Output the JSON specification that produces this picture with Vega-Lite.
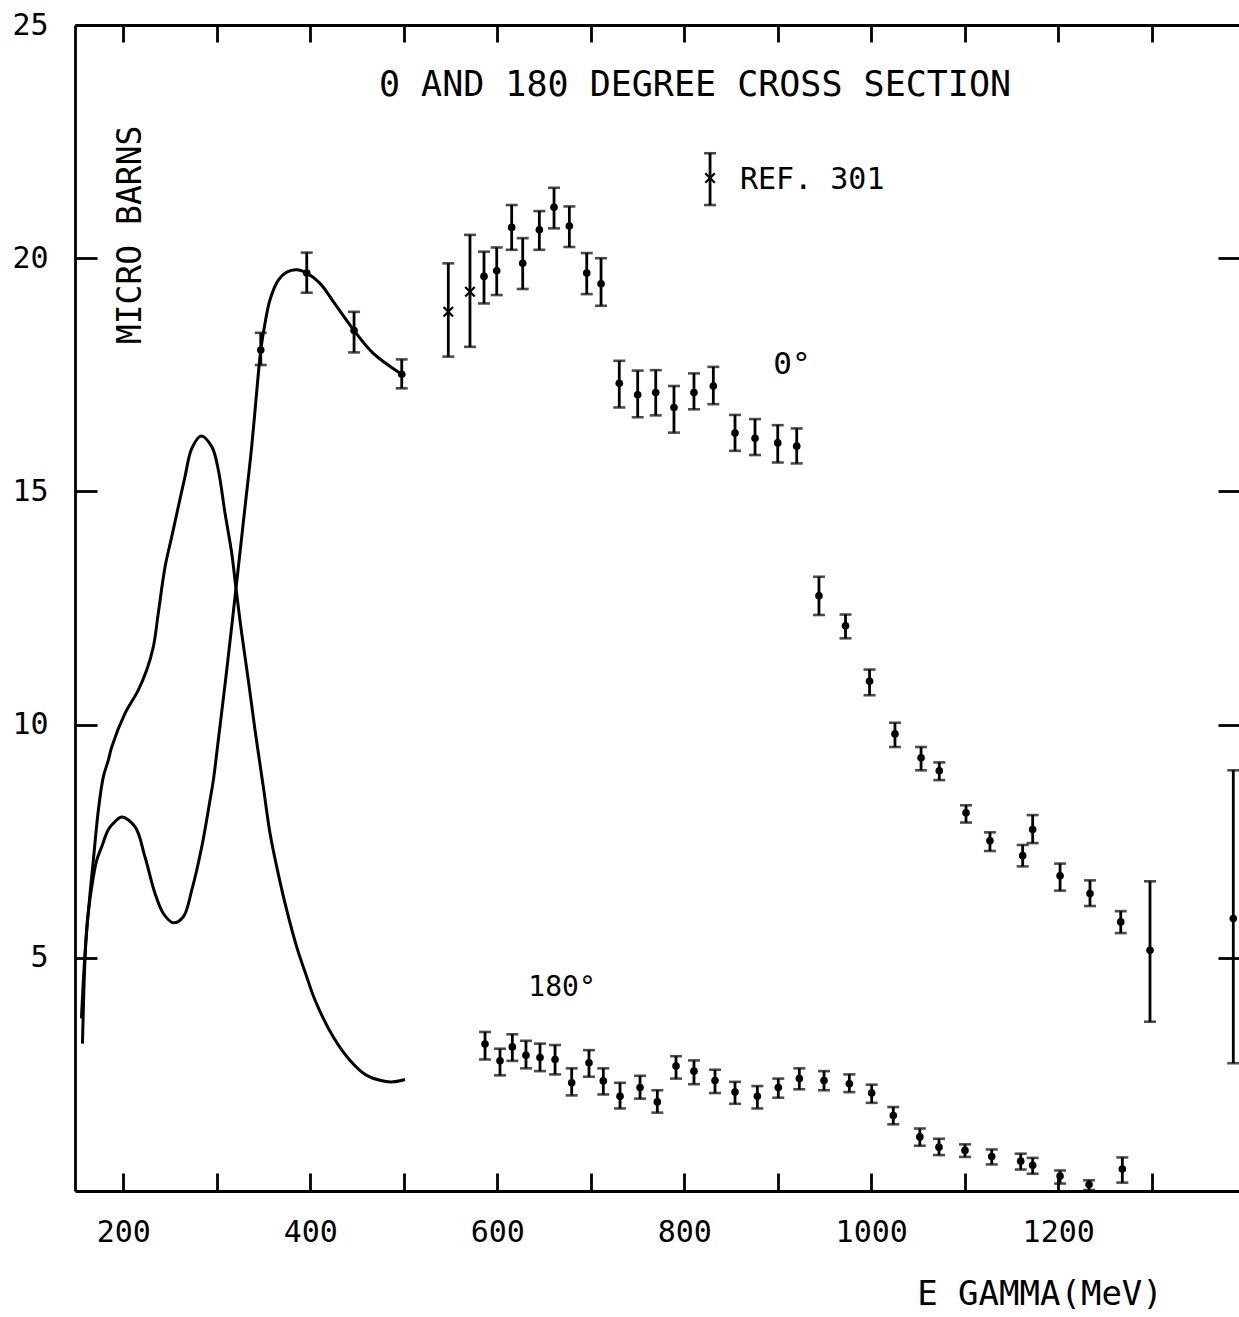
{
  "$schema": "https://vega.github.io/schema/vega-lite/v6.json",
  "width": 1164,
  "height": 1166,
  "autosize": {"type": "none"},
  "padding": {"left": 75, "top": 25, "right": 0, "bottom": 126},
  "background": "white",
  "config": {
    "view": {"stroke": null},
    "font": "DejaVu Sans Mono",
    "axis": {
      "domainColor": "black", "domainWidth": 2.8, "tickColor": "black", "tickWidth": 2.8,
      "labelColor": "black", "labelFont": "DejaVu Sans Mono", "grid": false,
      "labelOverlap": false, "labelFlush": false, "labelBound": false
    }
  },
  "datasets": {
    "curves": [
      {"curve": "180", "e": 155.2, "v": 3.7}, {"curve": "180", "e": 159.0, "v": 5.09}, {"curve": "180", "e": 164.4, "v": 6.38},
      {"curve": "180", "e": 167.9, "v": 7.09}, {"curve": "180", "e": 173.3, "v": 8.17}, {"curve": "180", "e": 178.6, "v": 8.88},
      {"curve": "180", "e": 184.0, "v": 9.24}, {"curve": "180", "e": 187.6, "v": 9.52}, {"curve": "180", "e": 201.8, "v": 10.24},
      {"curve": "180", "e": 216.0, "v": 10.74}, {"curve": "180", "e": 225.0, "v": 11.17}, {"curve": "180", "e": 232.1, "v": 11.67},
      {"curve": "180", "e": 237.4, "v": 12.39}, {"curve": "180", "e": 244.6, "v": 13.38}, {"curve": "180", "e": 251.8, "v": 14.03},
      {"curve": "180", "e": 258.8, "v": 14.67}, {"curve": "180", "e": 266.0, "v": 15.32}, {"curve": "180", "e": 273.2, "v": 15.92},
      {"curve": "180", "e": 283.1, "v": 16.19}, {"curve": "180", "e": 294.6, "v": 15.96}, {"curve": "180", "e": 301.6, "v": 15.46},
      {"curve": "180", "e": 308.8, "v": 14.53}, {"curve": "180", "e": 316.0, "v": 13.67}, {"curve": "180", "e": 320.5, "v": 12.92},
      {"curve": "180", "e": 326.6, "v": 11.96}, {"curve": "180", "e": 333.7, "v": 10.95}, {"curve": "180", "e": 340.9, "v": 9.88},
      {"curve": "180", "e": 349.7, "v": 8.67}, {"curve": "180", "e": 356.9, "v": 7.67}, {"curve": "180", "e": 364.1, "v": 6.95},
      {"curve": "180", "e": 374.8, "v": 6.02}, {"curve": "180", "e": 385.5, "v": 5.23}, {"curve": "180", "e": 396.2, "v": 4.59},
      {"curve": "180", "e": 405.1, "v": 4.09}, {"curve": "180", "e": 424.6, "v": 3.30}, {"curve": "180", "e": 442.5, "v": 2.80},
      {"curve": "180", "e": 460.3, "v": 2.48}, {"curve": "180", "e": 478.1, "v": 2.36}, {"curve": "180", "e": 488.8, "v": 2.34},
      {"curve": "180", "e": 501.3, "v": 2.39},
      {"curve": "0", "e": 156.3, "v": 3.16}, {"curve": "0", "e": 160.9, "v": 5.66}, {"curve": "0", "e": 166.2, "v": 6.52},
      {"curve": "0", "e": 171.5, "v": 7.09}, {"curve": "0", "e": 176.9, "v": 7.38}, {"curve": "0", "e": 184.0, "v": 7.75},
      {"curve": "0", "e": 191.1, "v": 7.92}, {"curve": "0", "e": 198.3, "v": 8.02}, {"curve": "0", "e": 212.5, "v": 7.81},
      {"curve": "0", "e": 223.2, "v": 7.16}, {"curve": "0", "e": 233.9, "v": 6.38}, {"curve": "0", "e": 242.8, "v": 5.95},
      {"curve": "0", "e": 253.5, "v": 5.75}, {"curve": "0", "e": 264.2, "v": 5.88}, {"curve": "0", "e": 273.2, "v": 6.45},
      {"curve": "0", "e": 283.9, "v": 7.38}, {"curve": "0", "e": 292.7, "v": 8.38}, {"curve": "0", "e": 296.3, "v": 8.81},
      {"curve": "0", "e": 301.6, "v": 9.67}, {"curve": "0", "e": 310.6, "v": 11.17}, {"curve": "0", "e": 320.5, "v": 12.92},
      {"curve": "0", "e": 330.2, "v": 14.67}, {"curve": "0", "e": 337.3, "v": 15.96}, {"curve": "0", "e": 343.8, "v": 17.39},
      {"curve": "0", "e": 347.0, "v": 18.03}, {"curve": "0", "e": 351.6, "v": 18.61}, {"curve": "0", "e": 356.9, "v": 19.11},
      {"curve": "0", "e": 365.8, "v": 19.53}, {"curve": "0", "e": 374.8, "v": 19.70}, {"curve": "0", "e": 385.5, "v": 19.75},
      {"curve": "0", "e": 396.2, "v": 19.68}, {"curve": "0", "e": 410.4, "v": 19.46}, {"curve": "0", "e": 424.6, "v": 19.07},
      {"curve": "0", "e": 446.8, "v": 18.45}, {"curve": "0", "e": 467.4, "v": 17.96}, {"curve": "0", "e": 497.8, "v": 17.51}
    ],
    "meas": [
      {"src": "this", "angle": "0", "e": 347.0, "v": 18.03, "lo": 17.71, "hi": 18.40},
      {"src": "this", "angle": "0", "e": 396.2, "v": 19.68, "lo": 19.26, "hi": 20.12},
      {"src": "this", "angle": "0", "e": 446.8, "v": 18.45, "lo": 17.98, "hi": 18.85},
      {"src": "this", "angle": "0", "e": 497.8, "v": 17.51, "lo": 17.21, "hi": 17.83},
      {"src": "this", "angle": "0", "e": 585.8, "v": 19.61, "lo": 19.03, "hi": 20.14},
      {"src": "this", "angle": "0", "e": 599.4, "v": 19.73, "lo": 19.21, "hi": 20.23},
      {"src": "this", "angle": "0", "e": 615.4, "v": 20.66, "lo": 20.18, "hi": 21.14},
      {"src": "this", "angle": "0", "e": 627.2, "v": 19.89, "lo": 19.34, "hi": 20.43},
      {"src": "this", "angle": "0", "e": 645.0, "v": 20.61, "lo": 20.18, "hi": 21.01},
      {"src": "this", "angle": "0", "e": 660.7, "v": 21.09, "lo": 20.64, "hi": 21.51},
      {"src": "this", "angle": "0", "e": 677.1, "v": 20.69, "lo": 20.24, "hi": 21.11},
      {"src": "this", "angle": "0", "e": 695.7, "v": 19.68, "lo": 19.23, "hi": 20.11},
      {"src": "this", "angle": "0", "e": 711.0, "v": 19.45, "lo": 18.98, "hi": 20.00},
      {"src": "this", "angle": "0", "e": 730.5, "v": 17.32, "lo": 16.80, "hi": 17.80},
      {"src": "this", "angle": "0", "e": 750.2, "v": 17.07, "lo": 16.59, "hi": 17.59},
      {"src": "this", "angle": "0", "e": 769.5, "v": 17.12, "lo": 16.63, "hi": 17.60},
      {"src": "this", "angle": "0", "e": 789.0, "v": 16.80, "lo": 16.26, "hi": 17.26},
      {"src": "this", "angle": "0", "e": 810.4, "v": 17.12, "lo": 16.76, "hi": 17.53},
      {"src": "this", "angle": "0", "e": 831.1, "v": 17.26, "lo": 16.87, "hi": 17.67},
      {"src": "this", "angle": "0", "e": 854.3, "v": 16.25, "lo": 15.87, "hi": 16.64},
      {"src": "this", "angle": "0", "e": 875.7, "v": 16.14, "lo": 15.78, "hi": 16.55},
      {"src": "this", "angle": "0", "e": 900.0, "v": 16.04, "lo": 15.62, "hi": 16.42},
      {"src": "this", "angle": "0", "e": 920.3, "v": 15.97, "lo": 15.60, "hi": 16.35},
      {"src": "this", "angle": "0", "e": 944.1, "v": 12.76, "lo": 12.35, "hi": 13.17},
      {"src": "this", "angle": "0", "e": 972.5, "v": 12.12, "lo": 11.85, "hi": 12.36},
      {"src": "this", "angle": "0", "e": 998.2, "v": 10.93, "lo": 10.63, "hi": 11.18},
      {"src": "this", "angle": "0", "e": 1025.4, "v": 9.80, "lo": 9.52, "hi": 10.04},
      {"src": "this", "angle": "0", "e": 1053.3, "v": 9.29, "lo": 9.02, "hi": 9.52},
      {"src": "this", "angle": "0", "e": 1072.8, "v": 9.01, "lo": 8.81, "hi": 9.19},
      {"src": "this", "angle": "0", "e": 1101.4, "v": 8.11, "lo": 7.90, "hi": 8.27},
      {"src": "this", "angle": "0", "e": 1127.0, "v": 7.51, "lo": 7.29, "hi": 7.69},
      {"src": "this", "angle": "0", "e": 1162.0, "v": 7.19, "lo": 6.96, "hi": 7.42},
      {"src": "this", "angle": "0", "e": 1172.7, "v": 7.75, "lo": 7.46, "hi": 8.06},
      {"src": "this", "angle": "0", "e": 1202.0, "v": 6.76, "lo": 6.44, "hi": 7.02},
      {"src": "this", "angle": "0", "e": 1234.0, "v": 6.38, "lo": 6.11, "hi": 6.66},
      {"src": "this", "angle": "0", "e": 1266.9, "v": 5.77, "lo": 5.53, "hi": 6.00},
      {"src": "this", "angle": "0", "e": 1298.2, "v": 5.16, "lo": 3.63, "hi": 6.64},
      {"src": "this", "angle": "0", "e": 1387.3, "v": 5.84, "lo": 2.74, "hi": 9.02},
      {"src": "this", "angle": "180", "e": 586.9, "v": 3.15, "lo": 2.82, "hi": 3.41},
      {"src": "this", "angle": "180", "e": 602.9, "v": 2.79, "lo": 2.48, "hi": 3.05},
      {"src": "this", "angle": "180", "e": 616.1, "v": 3.09, "lo": 2.79, "hi": 3.36},
      {"src": "this", "angle": "180", "e": 630.7, "v": 2.91, "lo": 2.63, "hi": 3.22},
      {"src": "this", "angle": "180", "e": 645.7, "v": 2.86, "lo": 2.57, "hi": 3.16},
      {"src": "this", "angle": "180", "e": 661.8, "v": 2.82, "lo": 2.50, "hi": 3.13},
      {"src": "this", "angle": "180", "e": 679.6, "v": 2.32, "lo": 2.05, "hi": 2.63},
      {"src": "this", "angle": "180", "e": 698.1, "v": 2.75, "lo": 2.45, "hi": 3.02},
      {"src": "this", "angle": "180", "e": 713.4, "v": 2.36, "lo": 2.07, "hi": 2.63},
      {"src": "this", "angle": "180", "e": 731.3, "v": 2.03, "lo": 1.77, "hi": 2.32},
      {"src": "this", "angle": "180", "e": 752.7, "v": 2.22, "lo": 1.98, "hi": 2.47},
      {"src": "this", "angle": "180", "e": 771.2, "v": 1.91, "lo": 1.68, "hi": 2.16},
      {"src": "this", "angle": "180", "e": 791.2, "v": 2.68, "lo": 2.41, "hi": 2.89},
      {"src": "this", "angle": "180", "e": 810.4, "v": 2.57, "lo": 2.29, "hi": 2.80},
      {"src": "this", "angle": "180", "e": 832.9, "v": 2.37, "lo": 2.10, "hi": 2.60},
      {"src": "this", "angle": "180", "e": 854.3, "v": 2.12, "lo": 1.87, "hi": 2.34},
      {"src": "this", "angle": "180", "e": 878.2, "v": 2.03, "lo": 1.77, "hi": 2.25},
      {"src": "this", "angle": "180", "e": 900.6, "v": 2.22, "lo": 2.00, "hi": 2.41},
      {"src": "this", "angle": "180", "e": 923.1, "v": 2.41, "lo": 2.18, "hi": 2.63},
      {"src": "this", "angle": "180", "e": 949.5, "v": 2.37, "lo": 2.16, "hi": 2.57},
      {"src": "this", "angle": "180", "e": 976.6, "v": 2.30, "lo": 2.12, "hi": 2.50},
      {"src": "this", "angle": "180", "e": 1000.5, "v": 2.10, "lo": 1.89, "hi": 2.28},
      {"src": "this", "angle": "180", "e": 1023.6, "v": 1.62, "lo": 1.43, "hi": 1.80},
      {"src": "this", "angle": "180", "e": 1052.0, "v": 1.16, "lo": 0.97, "hi": 1.34},
      {"src": "this", "angle": "180", "e": 1072.5, "v": 0.94, "lo": 0.77, "hi": 1.12},
      {"src": "this", "angle": "180", "e": 1100.3, "v": 0.87, "lo": 0.73, "hi": 1.00},
      {"src": "this", "angle": "180", "e": 1128.9, "v": 0.74, "lo": 0.57, "hi": 0.89},
      {"src": "this", "angle": "180", "e": 1159.9, "v": 0.64, "lo": 0.46, "hi": 0.80},
      {"src": "this", "angle": "180", "e": 1172.7, "v": 0.55, "lo": 0.37, "hi": 0.71},
      {"src": "this", "angle": "180", "e": 1202.0, "v": 0.32, "lo": 0.16, "hi": 0.44},
      {"src": "this", "angle": "180", "e": 1233.0, "v": 0.14, "lo": 0.02, "hi": 0.23},
      {"src": "this", "angle": "180", "e": 1268.6, "v": 0.47, "lo": 0.18, "hi": 0.72},
      {"src": "ref301", "angle": "0", "e": 547.6, "v": 18.85, "lo": 17.89, "hi": 19.89},
      {"src": "ref301", "angle": "0", "e": 570.8, "v": 19.28, "lo": 18.10, "hi": 20.50},
      {"src": "ref301", "angle": "key", "e": 827.6, "v": 21.72, "lo": 21.14, "hi": 22.25}
    ],
    "labels": [
      {"kind": "title", "e": 811.5, "v": 23.72, "text": "0 AND 180 DEGREE CROSS SECTION"},
      {"kind": "ref", "e": 859.6, "v": 21.68, "text": "REF. 301"},
      {"kind": "zero", "e": 895.3, "v": 17.71, "text": "0°"},
      {"kind": "oneeighty", "e": 633.2, "v": 4.35, "text": "180°"},
      {"kind": "ytitle", "e": 207.9, "v": 20.5, "text": "MICRO BARNS"},
      {"kind": "xtitle", "e": 1180.5, "v": -2.24, "text": "E GAMMA(MeV)"}
    ]
  },
  "resolve": {"scale": {"x": "shared", "y": "shared"}, "axis": {"x": "independent", "y": "independent"}},
  "layer": [
    {
      "data": {"name": "curves"},
      "mark": {"type": "line", "interpolate": "catmull-rom", "strokeWidth": 3, "color": "black"},
      "encoding": {
        "x": {"field": "e", "type": "quantitative",
          "scale": {"domain": [148.3, 1393.4], "nice": false, "zero": false},
          "axis": {"orient": "bottom", "title": null, "values": [200, 300, 400, 500, 600, 700, 800, 900, 1000, 1100, 1200, 1300],
            "tickSize": -18, "labelPadding": 44, "labelFontSize": 30, "format": "d",
            "labelExpr": "datum.value % 200 === 0 ? datum.label : ''"}},
        "y": {"field": "v", "type": "quantitative",
          "scale": {"domain": [0, 25], "nice": false, "zero": false},
          "axis": {"orient": "left", "title": null, "values": [5, 10, 15, 20, 25],
            "tickSize": -22, "labelPadding": 49, "labelFontSize": 30}},
        "detail": {"field": "curve"}
      }
    },
    {
      "data": {"name": "meas"},
      "mark": {"type": "rule", "strokeWidth": 2.8, "color": "black"},
      "encoding": {
        "x": {"field": "e", "type": "quantitative",
          "axis": {"orient": "top", "title": null, "labels": false, "domain": true,
            "values": [200, 300, 400, 500, 600, 700, 800, 900, 1000, 1100, 1200, 1300], "tickSize": -17}},
        "y": {"field": "lo", "type": "quantitative",
          "axis": {"orient": "right", "title": null, "labels": false, "domain": false,
            "values": [5, 10, 15, 20], "tickSize": -21}},
        "y2": {"field": "hi"}
      }
    },
    {
      "data": {"name": "meas"},
      "mark": {"type": "tick", "orient": "horizontal", "size": 12, "thickness": 2.6, "color": "black"},
      "encoding": {
        "x": {"field": "e", "type": "quantitative", "axis": null},
        "y": {"field": "lo", "type": "quantitative", "axis": null}
      }
    },
    {
      "data": {"name": "meas"},
      "mark": {"type": "tick", "orient": "horizontal", "size": 12, "thickness": 2.6, "color": "black"},
      "encoding": {
        "x": {"field": "e", "type": "quantitative", "axis": null},
        "y": {"field": "hi", "type": "quantitative", "axis": null}
      }
    },
    {
      "data": {"name": "meas"},
      "transform": [{"filter": "datum.src === 'this'"}],
      "mark": {"type": "point", "shape": "circle", "filled": true, "size": 58, "color": "black", "opacity": 1},
      "encoding": {
        "x": {"field": "e", "type": "quantitative", "axis": null},
        "y": {"field": "v", "type": "quantitative", "axis": null}
      }
    },
    {
      "data": {"name": "meas"},
      "transform": [{"filter": "datum.src === 'ref301'"}],
      "mark": {"type": "point", "shape": "M-1,-1L1,1M-1,1L1,-1", "filled": false, "size": 90, "stroke": "black", "strokeWidth": 2.2, "opacity": 1},
      "encoding": {
        "x": {"field": "e", "type": "quantitative", "axis": null},
        "y": {"field": "v", "type": "quantitative", "axis": null}
      }
    },
    {
      "data": {"name": "labels"},
      "transform": [{"filter": "datum.kind === 'title'"}],
      "mark": {"type": "text", "fontSize": 35, "align": "center", "baseline": "middle", "color": "black", "font": "DejaVu Sans Mono"},
      "encoding": {
        "x": {"field": "e", "type": "quantitative", "axis": null},
        "y": {"field": "v", "type": "quantitative", "axis": null},
        "text": {"field": "text"}
      }
    },
    {
      "data": {"name": "labels"},
      "transform": [{"filter": "datum.kind === 'ref'"}],
      "mark": {"type": "text", "fontSize": 30, "align": "left", "baseline": "middle", "color": "black", "font": "DejaVu Sans Mono"},
      "encoding": {
        "x": {"field": "e", "type": "quantitative", "axis": null},
        "y": {"field": "v", "type": "quantitative", "axis": null},
        "text": {"field": "text"}
      }
    },
    {
      "data": {"name": "labels"},
      "transform": [{"filter": "datum.kind === 'zero'"}],
      "mark": {"type": "text", "fontSize": 31, "align": "left", "baseline": "middle", "color": "black", "font": "DejaVu Sans Mono"},
      "encoding": {
        "x": {"field": "e", "type": "quantitative", "axis": null},
        "y": {"field": "v", "type": "quantitative", "axis": null},
        "text": {"field": "text"}
      }
    },
    {
      "data": {"name": "labels"},
      "transform": [{"filter": "datum.kind === 'oneeighty'"}],
      "mark": {"type": "text", "fontSize": 28, "align": "left", "baseline": "middle", "color": "black", "font": "DejaVu Sans Mono"},
      "encoding": {
        "x": {"field": "e", "type": "quantitative", "axis": null},
        "y": {"field": "v", "type": "quantitative", "axis": null},
        "text": {"field": "text"}
      }
    },
    {
      "data": {"name": "labels"},
      "transform": [{"filter": "datum.kind === 'ytitle'"}],
      "mark": {"type": "text", "fontSize": 33, "align": "center", "baseline": "middle", "angle": 270, "color": "black", "font": "DejaVu Sans Mono"},
      "encoding": {
        "x": {"field": "e", "type": "quantitative", "axis": null},
        "y": {"field": "v", "type": "quantitative", "axis": null},
        "text": {"field": "text"}
      }
    },
    {
      "data": {"name": "labels"},
      "transform": [{"filter": "datum.kind === 'xtitle'"}],
      "mark": {"type": "text", "fontSize": 34, "align": "center", "baseline": "middle", "color": "black", "font": "DejaVu Sans Mono", "clip": false},
      "encoding": {
        "x": {"field": "e", "type": "quantitative", "axis": null},
        "y": {"field": "v", "type": "quantitative", "axis": null},
        "text": {"field": "text"}
      }
    }
  ]
}
